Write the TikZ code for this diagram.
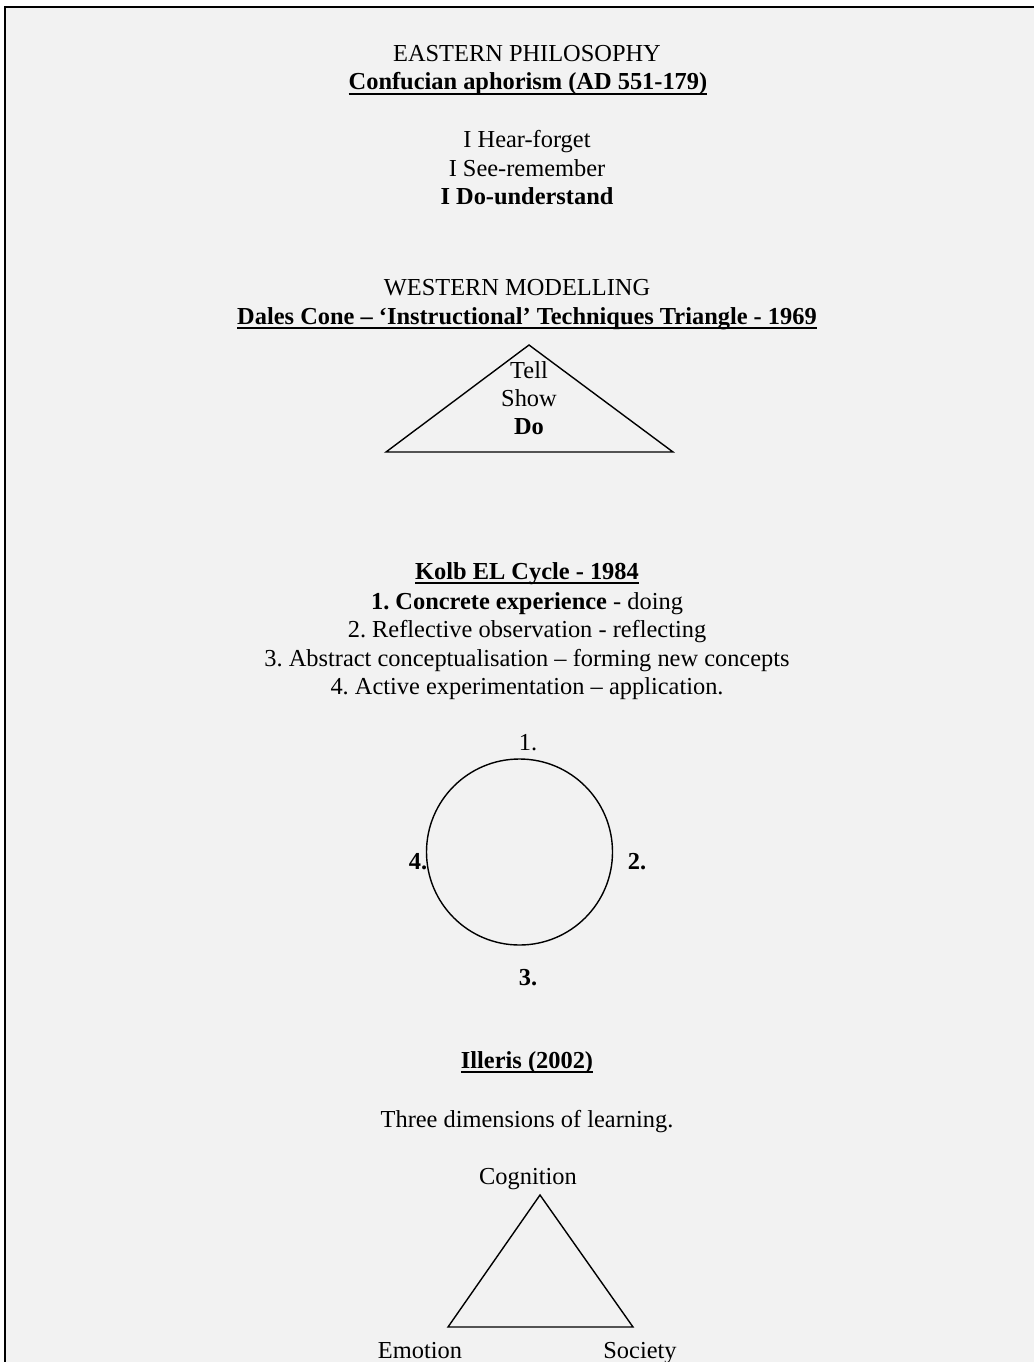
\documentclass[tikz,border=0pt]{standalone}
\usepackage{fontspec}
\setmainfont{Liberation Serif}
\usepackage{tikz}
\usetikzlibrary{positioning, calc}

\definecolor{pagegray}{HTML}{F2F2F2}
\frenchspacing

% heading with a thick rule under it
\newcommand{\headrule}[1]{\setbox0\hbox{\textbf{#1}}%
  \leavevmode\rlap{\raisebox{-5pt}{\rule{\wd0}{1.9pt}}}\box0}

\begin{document}
\begin{tikzpicture}[x=1pt, y=-1pt,
    font=\fontsize{24.4}{28.5}\selectfont,
    txt/.style={anchor=base, inner sep=0pt},
    shape line/.style={line width=1.4pt, line join=miter}]
        % Page and frame
        \useasboundingbox (0,0) rectangle (1034,1362);
        \fill[white] (0,0) rectangle (1034,1362);
        \fill[pagegray] (5,7) rectangle (1034,1362);
        \draw[line width=2pt] (5,1362) -- (5,6.7) -- (1034,6.7);

        % Eastern philosophy
        \node[txt] (eastTitle) at (527,62) {EASTERN PHILOSOPHY};
        \node[txt] (confucius) at (528,90) {\headrule{Confucian aphorism (AD 551-179)}};
        \node[txt] (hearLine) at (527,147) {I Hear-forget};
        \node[txt] (seeLine) at (527,176) {I See-remember};
        \node[txt] (doLine) at (527,204) {\textbf{I Do-understand}};

        % Western modelling
        \node[txt] (westTitle) at (517,295) {WESTERN MODELLING};
        \node[txt] (dalesTitle) at (527,324) {\headrule{Dales Cone -- `Instructional' Techniques Triangle - 1969}};

        % Dales cone
        \draw[shape line] (529,345) -- (673,452) -- (386,452) -- cycle;
        \node[txt] (tellLine) at (529,378) {Tell};
        \node[txt] (showLine) at (529,406) {Show};
        \node[txt] (doCone) at (529,434) {\textbf{Do}};

        % Kolb cycle
        \node[txt] (kolbTitle) at (527,579) {\headrule{Kolb EL Cycle - 1984}};
        \node[txt] (kolbOne) at (527,609) {\textbf{1. Concrete experience} - doing};
        \node[txt] (kolbTwo) at (527,637) {2. Reflective observation - reflecting};
        \node[txt] (kolbThree) at (527,666) {3. Abstract conceptualisation -- forming new concepts};
        \node[txt] (kolbFour) at (527,694) {4. Active experimentation -- application.};

        \node[circle, draw, line width=1.4pt, minimum size=186pt, inner sep=0pt] (kolbCycle) at (519.5,852) {};
        \node[txt] (stageOne) at (528,750) {1.};
        \node[txt] (stageTwo) at (637,869) {\textbf{2.}};
        \node[txt] (stageThree) at (528,985) {\textbf{3.}};
        \node[txt] (stageFour) at (418,869) {\textbf{4.}};

        % Illeris
        \node[txt] (illerisTitle) at (527,1068) {\headrule{Illeris (2002)}};
        \node[txt] (illerisText) at (527,1127) {Three dimensions of learning.};
        \draw[shape line] (540,1195) -- (633,1327) -- (448,1327) -- cycle;
        \node[txt] (cognition) at (528,1184) {Cognition};
        \node[txt] (emotion) at (420,1358) {Emotion};
        \node[txt] (society) at (640,1358) {Society};

\end{tikzpicture}
\end{document}
